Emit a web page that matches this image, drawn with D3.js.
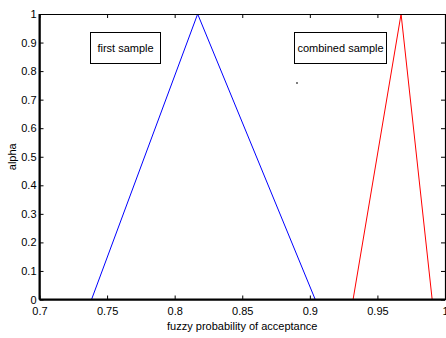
<!DOCTYPE html>
<html>
<head>
<meta charset="utf-8">
<script src="https://cdn.jsdelivr.net/npm/d3@7"></script>
<style>
body { margin: 0; background: #fff; }
text { font-family: "Liberation Sans", Arial, sans-serif; }
</style>
</head>
<body>
<script>
var w = 446, h = 338;

// fuzzy triangles (x = probability, y = alpha)
var firstX = [0.7385, 0.817, 0.904];
var firstY = [0, 1, 0];
var combinedX = [0.932, 0.9675, 0.9905];
var combinedY = [0, 1, 0];
var xTicks = [0.7, 0.75, 0.8, 0.85, 0.9, 0.95, 1];
var yTicks = [0, 0.1, 0.2, 0.3, 0.4, 0.5, 0.6, 0.7, 0.8, 0.9, 1];
var labels = ["first sample", "combined sample"];

var margin = {left: 39.5, right: 445, top: 14, bottom: 299.5};

var svg = d3.select("body").append("svg")
	.attr("width", w)
	.attr("height", h);

var x = d3.scaleLinear().domain([0.7, 1]).range([margin.left, margin.right]);
var y = d3.scaleLinear().domain([0, 1]).range([margin.bottom, margin.top]);

// Data lines
var line = d3.line().x(function(d) { return x(d[0]); }).y(function(d) { return y(d[1]); });

svg.append("path")
	.attr("d", line(d3.zip(firstX, firstY)))
	.attr("fill", "none")
	.attr("stroke", "#0000ff")
	.attr("stroke-width", 1);

svg.append("path")
	.attr("d", line(d3.zip(combinedX, combinedY)))
	.attr("fill", "none")
	.attr("stroke", "#ff0000")
	.attr("stroke-width", 1);

// Axes (ticks inward, box on)
var tl = 4;
svg.append("g")
	.attr("transform", "translate(0," + margin.bottom + ")")
	.call(d3.axisBottom(x).tickValues(xTicks).tickSizeInner(-tl).tickSizeOuter(0).tickPadding(8)
		.tickFormat(function(d) { return d3.format("")(d); }));
svg.append("g")
	.attr("transform", "translate(0," + margin.top + ")")
	.call(d3.axisTop(x).tickValues(xTicks).tickSizeInner(-tl).tickSizeOuter(0).tickFormat(""));
svg.append("g")
	.attr("transform", "translate(" + margin.left + ",0)")
	.call(d3.axisLeft(y).tickValues(yTicks).tickSizeInner(-tl).tickSizeOuter(0).tickPadding(3)
		.tickFormat(function(d) { return d3.format("")(d); }));
svg.append("g")
	.attr("transform", "translate(" + margin.right + ",0)")
	.call(d3.axisRight(y).tickValues(yTicks).tickSizeInner(-tl).tickSizeOuter(0).tickFormat(""));

svg.selectAll(".domain").attr("stroke", "#000").attr("stroke-width", 1.2);
svg.selectAll(".tick line").attr("stroke", "#000");
svg.selectAll(".tick text")
	.attr("fill", "#000")
	.style("font-size", "11px")
	.style("font-family", "Liberation Sans, Arial, sans-serif");

// Heavier left and bottom edges
svg.append("line")
	.attr("x1", margin.left).attr("x2", margin.left)
	.attr("y1", margin.top).attr("y2", margin.bottom)
	.attr("stroke", "#000").attr("stroke-width", 2);
svg.append("line")
	.attr("x1", margin.left).attr("x2", margin.right)
	.attr("y1", margin.bottom).attr("y2", margin.bottom)
	.attr("stroke", "#000").attr("stroke-width", 2);

// Text boxes
var boxes = [
	{x: 90.5, y: 32.5, w: 70, h: 31},
	{x: 294.5, y: 32.5, w: 92, h: 31}
];
boxes.forEach(function(b, i) {
	svg.append("rect")
		.attr("x", b.x).attr("y", b.y)
		.attr("width", b.w).attr("height", b.h)
		.attr("fill", "#fff")
		.attr("stroke", "#000");
	svg.append("text")
		.attr("x", b.x + b.w / 2)
		.attr("y", b.y + b.h / 2 + 4)
		.attr("text-anchor", "middle")
		.style("font-size", "11px")
		.text(labels[i]);
});

// Stray dot
svg.append("rect")
	.attr("x", 296).attr("y", 82.5)
	.attr("width", 2).attr("height", 1)
	.attr("fill", "#000");

// Axis labels
svg.append("text")
	.attr("x", (margin.left + margin.right) / 2)
	.attr("y", 330)
	.attr("text-anchor", "middle")
	.style("font-size", "11px")
	.text("fuzzy probability of acceptance");

svg.append("text")
	.attr("transform", "translate(16," + (margin.top + margin.bottom) / 2 + ") rotate(-90)")
	.attr("text-anchor", "middle")
	.style("font-size", "11px")
	.text("alpha");
</script>
</body>
</html>
